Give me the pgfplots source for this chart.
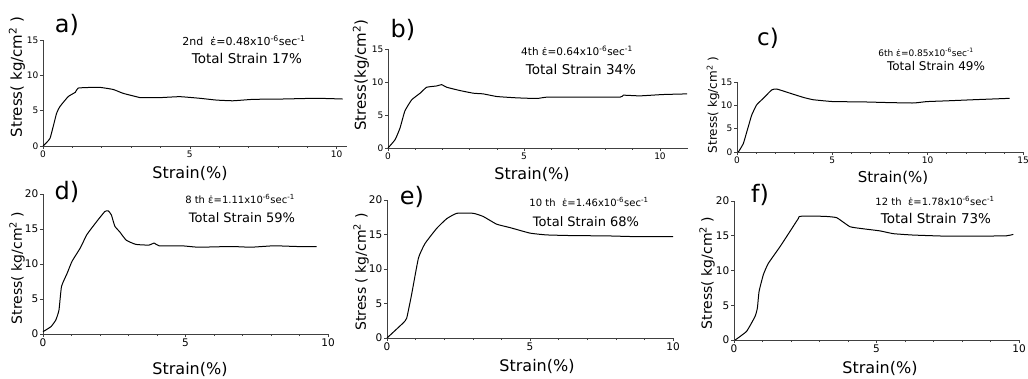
\documentclass[border=0pt]{standalone}
\usepackage{fontspec}
\setmainfont{DejaVu Sans}
\usepackage{pgfplots}
\pgfplotsset{compat=1.18}
\pgfplotsset{panel/.style={
  scale only axis, anchor=south west,
  axis lines=left, axis line style={-, line width=0.7pt, black!75},
  xmin=0, ymin=0,
  tick align=outside, major tick length=3pt, minor tick length=2pt,
  every tick/.style={black!75, line width=0.6pt},
  minor x tick num=4,
  /pgf/number format/assume math mode=true,
  tick label style={font=\fontsize{9}{9}\selectfont, black, inner sep=1.5pt},
  clip=false,
},
curve/.style={black, line width=1pt, line join=round, smooth, tension=0.25}}
\newcommand{\edot}{ε̇}
\begin{document}
\begin{tikzpicture}[every node/.style={inner sep=0.5pt}]
\useasboundingbox (0,0) rectangle (1028pt,378pt);
% a
\begin{axis}[panel, at={(43pt,232pt)}, width=304pt, height=106pt, xmax=10.35, ymax=15, xtick={0,5,10}, ytick={0,5,10,15}]
\addplot[curve] coordinates {(0,0) (0.24,1.1) (0.46,4.6) (0.58,5.6) (0.86,7.0) (1.1,7.6) (1.2,8.2) (1.71,8.3) (1.94,8.3) (2.39,8.0) (2.73,7.45) (3.3,6.85) (3.41,6.84) (4.0,6.85) (4.66,6.98) (5.34,6.75) (5.9,6.5) (6.47,6.4) (7.15,6.6) (8.17,6.65) (9.3,6.75) (10.2,6.65)};
\end{axis}
% b
\begin{axis}[panel, at={(388pt,230pt)}, width=300pt, height=99pt, xmax=11.03, ymax=15, xtick={0,5,10}, ytick={0,5,10,15}]
\addplot[curve] coordinates {(0,0) (0.26,1.26) (0.44,3.0) (0.62,5.6) (0.87,7.3) (1.18,8.3) (1.42,9.2) (1.79,9.4) (1.97,9.6) (2.16,9.2) (2.65,8.7) (3.14,8.3) (3.5,8.2) (4.0,7.8) (4.73,7.6) (5.47,7.5) (5.83,7.7) (6.81,7.7) (8.53,7.7) (8.65,8.0) (9.26,7.9) (10.1,8.1) (11.0,8.2)};
\end{axis}
% c
\begin{axis}[panel, at={(737pt,226pt)}, width=286pt, height=70pt, xmax=15, ymax=15, xtick={0,5,10,15}, ytick={0,5,10,15}]
\addplot[curve] coordinates {(0.07,0) (0.33,1.8) (0.59,5.4) (0.77,7.9) (1.03,10.1) (1.38,11.5) (1.82,13.3) (2.08,13.5) (2.78,12.6) (3.48,11.7) (4.0,11.2) (5.05,10.8) (6.45,10.75) (7.85,10.6) (9.25,10.5) (9.95,10.8) (11.0,10.96) (12.4,11.2) (14.3,11.5)};
\end{axis}
% d
\begin{axis}[panel, at={(43pt,44pt)}, width=285pt, height=140pt, xmax=10, ymax=20, xtick={0,5,10}, ytick={0,5,10,15,20}, tick label style={font=\fontsize{10.5}{10.5}\selectfont}]
\addplot[curve] coordinates {(0,0.33) (0.28,1.05) (0.45,2.0) (0.56,3.4) (0.65,6.8) (0.85,8.7) (1.02,10.4) (1.31,12.3) (1.54,14.2) (1.89,16.1) (2.17,17.5) (2.29,17.6) (2.4,17.0) (2.52,15.4) (2.69,14.6) (2.92,13.4) (3.26,12.8) (3.72,12.7) (3.9,13.0) (4.07,12.6) (4.87,12.6) (5.45,12.4) (6.6,12.5) (7.3,12.4) (8.1,12.6) (8.9,12.5) (9.6,12.5)};
\end{axis}
% e
\begin{axis}[panel, at={(387pt,40pt)}, width=286pt, height=138pt, xmax=10, ymax=20, xtick={0,5,10}, ytick={0,5,10,15,20}, tick label style={font=\fontsize{10.5}{10.5}\selectfont}]
\addplot[curve] coordinates {(0,0) (0.57,2.2) (0.69,2.9) (0.86,6.3) (1.10,11.6) (1.33,13.7) (1.74,15.9) (2.09,17.3) (2.44,18.07) (3.02,18.07) (3.37,17.6) (3.83,16.5) (4.3,16.0) (5.0,15.2) (5.58,14.94) (6.51,14.84) (7.68,14.8) (8.61,14.7) (10,14.7)};
\end{axis}
% f
\begin{axis}[panel, at={(734pt,38pt)}, width=285pt, height=139pt, xmax=10, ymax=20, xtick={0,5,10}, ytick={0,5,10,15,20}, tick label style={font=\fontsize{10.5}{10.5}\selectfont}]
\addplot[curve] coordinates {(0.04,0) (0.44,1.24) (0.74,3.4) (0.82,4.6) (0.88,7.0) (1.03,9.4) (1.2,11.0) (1.61,13.4) (1.96,15.6) (2.26,17.5) (2.32,17.8) (3.13,17.8) (3.6,17.6) (4.07,16.3) (4.54,16.0) (5.12,15.7) (5.59,15.3) (6.29,15.1) (7.46,14.94) (8.63,14.94) (9.57,15.0) (9.8,15.2)};
\end{axis}
% x labels
\node[font=\fontsize{16}{16}\selectfont] at (190pt,205pt) {Strain(\%)};
\node[font=\fontsize{16}{16}\selectfont] at (532pt,204pt) {Strain(\%)};
\node[font=\fontsize{15}{15}\selectfont] at (893pt,200pt) {Strain(\%)};
\node[font=\fontsize{16}{16}\selectfont] at (190pt,9pt) {Strain(\%)};
\node[font=\fontsize{16}{16}\selectfont] at (537pt,12pt) {Strain(\%)};
\node[font=\fontsize{16}{16}\selectfont] at (880pt,10pt) {Strain(\%)};
% y labels
\node[rotate=90, font=\fontsize{15}{15}\selectfont] at (17pt,301pt) {Stress( kg/cm\textsuperscript{2} )};
\node[rotate=90, font=\fontsize{15}{15}\selectfont] at (361pt,303pt) {Stress(kg/cm\textsuperscript{2})};
\node[rotate=90, font=\fontsize{12}{12}\selectfont] at (713pt,273pt) {Stress( kg/cm\textsuperscript{2} )};
\node[rotate=90, font=\fontsize{14}{14}\selectfont] at (17pt,110pt) {Stress( kg/cm\textsuperscript{2} )};
\node[rotate=90, font=\fontsize{14}{14}\selectfont] at (361pt,106pt) {Stress ( kg/cm\textsuperscript{2} )};
\node[rotate=90, font=\fontsize{14}{14}\selectfont] at (707pt,105pt) {Stress( kg/cm\textsuperscript{2} )};
% panel letters
\node[font=\fontsize{24}{24}\selectfont] at (67pt,353pt) {a)};
\node[font=\fontsize{24}{24}\selectfont] at (403pt,348pt) {b)};
\node[font=\fontsize{23}{23}\selectfont] at (768pt,340pt) {c)};
\node[font=\fontsize{24}{24}\selectfont] at (67pt,186pt) {d)};
\node[font=\fontsize{24}{24}\selectfont] at (412pt,181pt) {e)};
\node[font=\fontsize{24}{24}\selectfont] at (760pt,183pt) {f)};
% annotations
\node[font=\fontsize{11}{11}\selectfont] at (244pt,337pt) {2nd~~\edot=0.48x10\textsuperscript{-6}sec\textsuperscript{-1}};
\node[font=\fontsize{13.5}{13.5}\selectfont] at (247pt,320pt) {Total Strain 17\%};
\node[font=\fontsize{10.5}{10.5}\selectfont] at (577pt,327pt) {4th \edot=0.64x10\textsuperscript{-6}sec\textsuperscript{-1}};
\node[font=\fontsize{13.5}{13.5}\selectfont] at (581pt,309pt) {Total Strain 34\%};
\node[font=\fontsize{9}{9}\selectfont] at (926pt,326pt) {6th \edot=0.85x10\textsuperscript{-6}sec\textsuperscript{-1}};
\node[font=\fontsize{12}{12}\selectfont] at (936pt,312pt) {Total Strain 49\%};
\node[font=\fontsize{10}{10}\selectfont] at (240pt,179pt) {8 th \edot=1.11x10\textsuperscript{-6}sec\textsuperscript{-1}};
\node[font=\fontsize{13}{13}\selectfont] at (242pt,160pt) {Total Strain 59\%};
\node[font=\fontsize{10}{10}\selectfont] at (589pt,176pt) {10 th~~\edot=1.46x10\textsuperscript{-6}sec\textsuperscript{-1}};
\node[font=\fontsize{13}{13}\selectfont] at (586pt,156pt) {Total Strain 68\%};
\node[font=\fontsize{10}{10}\selectfont] at (935pt,177pt) {12 th~~\edot=1.78x10\textsuperscript{-6}sec\textsuperscript{-1}};
\node[font=\fontsize{13.5}{13.5}\selectfont] at (936pt,160pt) {Total Strain 73\%};
\end{tikzpicture}
\end{document}
